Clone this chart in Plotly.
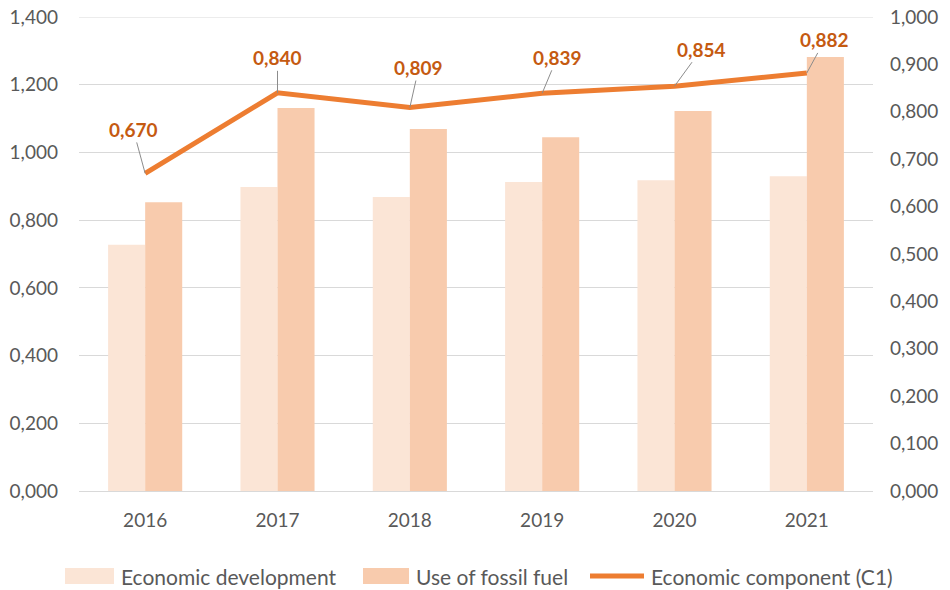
import plotly.graph_objects as go

years = ["2016", "2017", "2018", "2019", "2020", "2021"]
economic_development = [0.727, 0.898, 0.868, 0.913, 0.918, 0.930]
fossil_fuel_use = [0.853, 1.131, 1.069, 1.045, 1.122, 1.282]
economic_component_c1 = [0.670, 0.840, 0.809, 0.839, 0.854, 0.882]

# label offsets (pixels) for the C1 value callouts
label_dx = [-12, 0, 9, 15, 27, 18]
label_dy = [-44, -35, -40, -36, -37, -33]

LIGHT = "#FBE5D6"
MID = "#F8CBAD"
LINE = "#ED7D31"
LABEL = "#C55A11"
TICK = "#595959"
GRID = "#D9D9D9"
FONT = "Lato"
Y_MAX = 1.4

fig = go.Figure()
fig.add_trace(go.Bar(x=years, y=economic_development, name="Economic development",
                     marker=dict(color=LIGHT, line=dict(width=0))))
fig.add_trace(go.Bar(x=years, y=fossil_fuel_use, name="Use of fossil fuel",
                     marker=dict(color=MID, line=dict(width=0))))
fig.add_trace(go.Scatter(x=years, y=economic_component_c1, name="Economic component (C1)",
                         mode="lines", line=dict(color=LINE, width=5), yaxis="y2"))

# value callouts on the C1 line (x given as category index)
for i, (v, dx, dy) in enumerate(zip(economic_component_c1, label_dx, label_dy)):
    fig.add_annotation(x=i, y=v, xref="x", yref="y2", text=f"{v:.3f}".replace(".", ","),
                       showarrow=True, arrowhead=0, arrowwidth=1, arrowcolor="#8C8C8C",
                       ax=dx, ay=dy, font=dict(family=FONT, size=19, color=LABEL, weight="bold"))

# top gridline at the edge of the value range
fig.add_shape(type="line", xref="paper", yref="y", x0=0, x1=1, y0=Y_MAX, y1=Y_MAX,
              line=dict(color=GRID, width=1), layer="below")

# legend drawn below the plot
W, H = 950, 590
ml, mr, mt, mb = 79, 77, 17, 99
pw, ph = W - ml - mr, H - mt - mb


def px(x):
    return (x - ml) / pw


def py(y):
    return (H - mb - y) / ph


legend_items = [
    ("Economic development", LIGHT, "rect", 65, 114),
    ("Use of fossil fuel", MID, "rect", 363, 409),
    ("Economic component (C1)", LINE, "line", 590, 644),
]
for text, color, kind, x0, x1 in legend_items:
    if kind == "rect":
        fig.add_shape(type="rect", xref="paper", yref="paper", x0=px(x0), x1=px(x1),
                      y0=py(584), y1=py(568), fillcolor=color, line=dict(width=0))
    else:
        fig.add_shape(type="line", xref="paper", yref="paper", x0=px(x0), x1=px(x1),
                      y0=py(576), y1=py(576), line=dict(color=color, width=5))
    fig.add_annotation(xref="paper", yref="paper", x=px(x1 + 5), y=py(576), text=text,
                       showarrow=False, xanchor="left", yanchor="middle",
                       font=dict(family=FONT, size=21, color=TICK))

fig.update_layout(
    width=W, height=H,
    margin=dict(l=ml, r=mr, t=mt, b=mb, autoexpand=False),
    paper_bgcolor="white", plot_bgcolor="white",
    separators=",.",
    barmode="group", bargap=0.44, bargroupgap=0,
    showlegend=False,
    font=dict(family=FONT, size=19, color=TICK),
    xaxis=dict(type="category", range=[-0.5, 5.5], showgrid=False, showline=True,
               linecolor=GRID, linewidth=1, ticks="", ticklabelstandoff=12,
               automargin=False, tickfont=dict(size=19, color=TICK)),
    yaxis=dict(range=[0, Y_MAX], dtick=0.2, tickformat=".3f", showgrid=True,
               gridcolor=GRID, gridwidth=1, zeroline=False, ticks="",
               ticklabelstandoff=20, automargin=False, tickfont=dict(size=19, color=TICK)),
    yaxis2=dict(range=[0, 1.0], dtick=0.1, tickformat=".3f", overlaying="y",
                side="right", showgrid=False, zeroline=False, ticks="",
                ticklabelstandoff=16, automargin=False, tickfont=dict(size=19, color=TICK)),
)

fig.write_html("out.html")
